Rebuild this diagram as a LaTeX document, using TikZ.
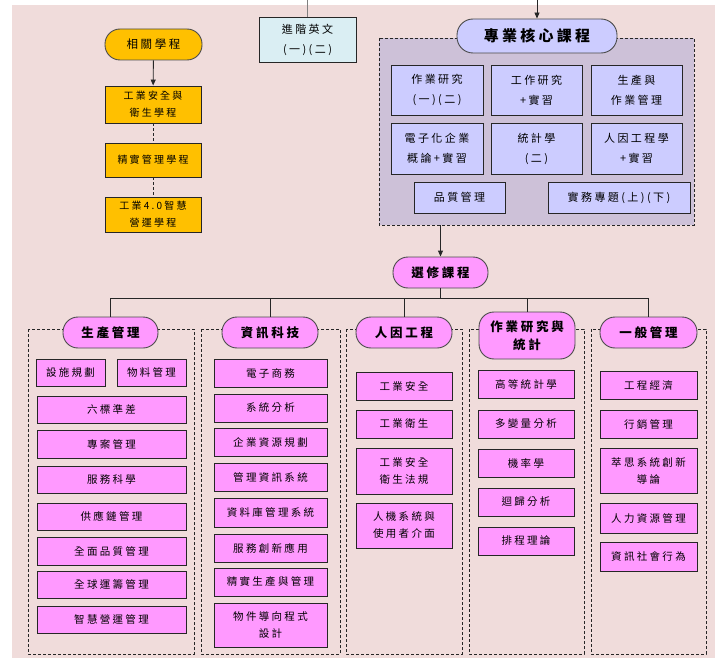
\documentclass[tikz,border=0pt]{standalone}
\usepackage{fontspec}
\setmainfont{Noto Sans CJK TC}[LetterSpace=22]
\usetikzlibrary{arrows.meta}
\definecolor{bgpink}{HTML}{F0DCDB}
\definecolor{mag}{HTML}{FF99FF}
\definecolor{lav}{HTML}{CCCCFF}
\definecolor{corebg}{HTML}{CDC1D8}
\definecolor{eng}{HTML}{DAEEF3}
\definecolor{gold}{HTML}{FFC000}
\newcommand\mkbox[7]{\node[#1, minimum width=#5pt, minimum height=#6pt] (#2) at (#3,#4) {#7};}
\begin{document}
\begin{tikzpicture}[x=1pt,y=-1pt,
  itembox/.style={draw=black!85, line width=0.9pt, fill=mag, inner sep=0pt, align=center, font=\fontsize{10.5}{17}\selectfont},
  corebox/.style={itembox, fill=lav, font=\fontsize{11}{20}\selectfont},
  orbox/.style={itembox, fill=gold, font=\fontsize{10}{17}\selectfont},
  engbox/.style={itembox, fill=eng, font=\fontsize{11}{20}\selectfont},
  pill/.style={draw=black!70, line width=0.9pt, rounded corners=15pt, inner sep=0pt, align=center, fill=mag, font=\bfseries\fontsize{12.5}{18}\selectfont},
  corepill/.style={pill, fill=lav, rounded corners=16pt, font=\bfseries\fontsize{15}{18}\selectfont},
  goldpill/.style={pill, fill=gold, font=\fontsize{11.5}{16}\selectfont},
  grp/.style={draw=black!85, line width=0.8pt, dash pattern=on 3pt off 2pt},
  conn/.style={draw=black!85, line width=0.9pt},
  grayconn/.style={draw=black!50, line width=1pt},
  arr/.style={conn, -{Triangle[length=6pt,width=5pt]}}
]
\useasboundingbox (0,0) rectangle (720,658);
\fill[white] (0,0) rectangle (720,658);
\fill[bgpink] (12,5) rectangle (715,658);

% group frames
\path[grp, fill=corebg] (379,38) rectangle (694,225);
\path[grp] (28,329) rectangle (194,654);
\path[grp] (201,329) rectangle (340,654);
\path[grp] (346,329) rectangle (462,654);
\path[grp] (469,329) rectangle (584,654);
\path[grp] (591,329) rectangle (706,654);

% related programs
\mkbox{goldpill}{rel}{153.5}{44.5}{97}{31}{相關學程}
\mkbox{orbox}{o1}{153}{104.5}{96}{37}{工業安全與\\衛生學程}
\mkbox{orbox}{o2}{153}{160}{96}{34}{精實管理學程}
\mkbox{orbox}{o3}{153}{214.5}{96}{35}{工業4.0智慧\\營運學程}
\draw[arr] (rel) -- (o1);
\draw[conn, dash pattern=on 3pt off 2pt] (o1) -- (o2);
\draw[conn, dash pattern=on 3pt off 2pt] (o2) -- (o3);

% advanced English
\coordinate (engtop) at (307.5,0);
\mkbox{engbox}{eng}{307.5}{39.5}{97}{45}{進階英文\\(一)(二)}
\draw[grayconn] (engtop) -- (eng);

% core courses
\coordinate (coretop) at (537,0);
\mkbox{corepill}{core}{537}{36}{160}{34}{專業核心課程}
\draw[arr] (coretop) -- (core);
\mkbox{corebox}{c1}{437}{90}{92}{50}{作業研究\\(一)(二)}
\mkbox{corebox}{c2}{536.5}{90}{91}{50}{工作研究\\+實習}
\mkbox{corebox}{c3}{636.5}{90}{91}{50}{生產與\\作業管理}
\mkbox{corebox}{c4}{437}{148.5}{92}{51}{電子化企業\\概論+實習}
\mkbox{corebox}{c5}{536.5}{148.5}{91}{51}{統計學\\(二)}
\mkbox{corebox}{c6}{636.5}{148.5}{91}{51}{人因工程學\\+實習}
\mkbox{corebox}{c7}{459.5}{197.5}{91}{31}{品質管理}
\mkbox{corebox}{c8}{619}{197.5}{142}{31}{實務專題(上)(下)}

% electives
\coordinate (coreout) at (440.5,225);
\mkbox{pill}{sel}{440.5}{272.5}{95}{31}{選修課程}
\draw[arr] (coreout) -- (sel);
\coordinate (bus) at (440.5,298);

\mkbox{pill}{k1}{110.5}{332.5}{95}{31}{生產管理}
\mkbox{pill}{k2}{270}{332.5}{96}{31}{資訊科技}
\mkbox{pill}{k3}{404}{332.5}{96}{31}{人因工程}
\mkbox{pill}{k4}{527}{335.5}{96}{47}{作業研究與\\統計}
\mkbox{pill}{k5}{648.5}{332.5}{97}{31}{一般管理}
\draw[conn] (sel) -- (bus);
\draw[conn] (k1.north) |- (bus);
\draw[conn] (k2.north) |- (bus);
\draw[conn] (k3.north) |- (bus);
\draw[conn] (k4.north) |- (bus);
\draw[conn] (k5.north) |- (bus);

% column 1
\mkbox{itembox}{a1}{70.5}{372.5}{69}{27}{設施規劃}
\mkbox{itembox}{a2}{151.5}{372.5}{69}{27}{物料管理}
\mkbox{itembox}{a3}{111.5}{409.5}{149}{27}{六標準差}
\mkbox{itembox}{a4}{111.5}{444}{149}{28}{專案管理}
\mkbox{itembox}{a5}{111.5}{479.5}{149}{27}{服務科學}
\mkbox{itembox}{a6}{111.5}{516.5}{149}{27}{供應鏈管理}
\mkbox{itembox}{a7}{111.5}{551}{149}{28}{全面品質管理}
\mkbox{itembox}{a8}{111.5}{584.5}{149}{27}{全球運籌管理}
\mkbox{itembox}{a9}{111.5}{619.5}{149}{27}{智慧營運管理}

% column 2
\mkbox{itembox}{b1}{270.5}{373}{113}{28}{電子商務}
\mkbox{itembox}{b2}{270.5}{408}{113}{28}{系統分析}
\mkbox{itembox}{b3}{270.5}{442}{113}{28}{企業資源規劃}
\mkbox{itembox}{b4}{270.5}{477}{113}{28}{管理資訊系統}
\mkbox{itembox}{b5}{270.5}{512.5}{113}{29}{資料庫管理系統}
\mkbox{itembox}{b6}{270.5}{548}{113}{28}{服務創新應用}
\mkbox{itembox}{b7}{270.5}{582}{113}{28}{精實生產與管理}
\mkbox{itembox}{b8}{270.5}{625}{113}{44}{物件導向程式\\設計}

% column 3
\mkbox{itembox}{e1}{404}{386}{96}{28}{工業安全}
\mkbox{itembox}{e2}{404}{424}{96}{28}{工業衛生}
\mkbox{itembox}{e3}{404}{471}{96}{46}{工業安全\\衛生法規}
\mkbox{itembox}{e4}{404}{525.5}{96}{45}{人機系統與\\使用者介面}

% column 4
\mkbox{itembox}{f1}{526}{384.5}{96}{28}{高等統計學}
\mkbox{itembox}{f2}{526}{424}{96}{28}{多變量分析}
\mkbox{itembox}{f3}{526}{463}{96}{28}{機率學}
\mkbox{itembox}{f4}{526}{502}{96}{28}{迴歸分析}
\mkbox{itembox}{f5}{526}{541}{96}{28}{排程理論}

% column 5
\mkbox{itembox}{g1}{648.5}{385}{97}{28}{工程經濟}
\mkbox{itembox}{g2}{648.5}{424}{97}{28}{行銷管理}
\mkbox{itembox}{g3}{648.5}{470.5}{97}{45}{萃思系統創新\\導論}
\mkbox{itembox}{g4}{648.5}{518}{97}{30}{人力資源管理}
\mkbox{itembox}{g5}{648.5}{556.5}{97}{29}{資訊社會行為}
\end{tikzpicture}
\end{document}
